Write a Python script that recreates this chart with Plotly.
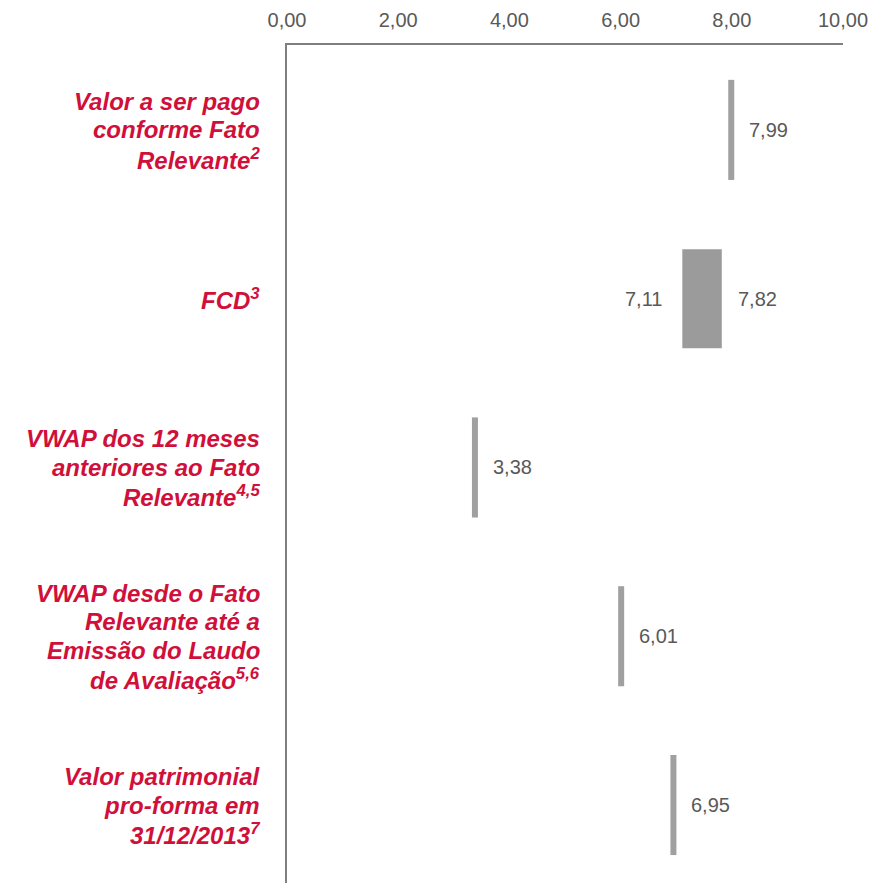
import plotly.graph_objects as go

# Categories (top to bottom), one entry per text line, and their values
categories = [
    ["Valor a ser pago", "conforme Fato", "Relevante<sup>2</sup>"],
    ["FCD<sup>3</sup>"],
    ["VWAP dos 12 meses", "anteriores ao Fato", "Relevante<sup>4,5</sup>"],
    ["VWAP desde o Fato", "Relevante até a", "Emissão do Laudo",
     "de Avaliação<sup>5,6</sup>"],
    ["Valor patrimonial", "pro-forma em", "31/12/2013<sup>7</sup>"],
]
point_values = [7.99, None, 3.38, 6.01, 6.95]
range_low = [None, 7.11, None, None, None]
range_high = [None, 7.82, None, None, None]
tick_values = [0, 2, 4, 6, 8, 10]

RED = "#d0103a"
GREY_MARK = "#a0a0a0"
GREY_BOX = "#9b9b9b"
GREY_TEXT = "#595959"
FONT = "Liberation Sans"
LINE_STEP = 28.7


def fmt(v):
    return f"{v:.2f}".replace(".", ",")


rows = list(range(len(categories)))
fig = go.Figure()

# Range rows drawn as floating horizontal bars
rb_y = [r for r in rows if range_low[r] is not None]
fig.add_trace(go.Bar(
    orientation="h",
    y=rb_y,
    base=[range_low[r] for r in rb_y],
    x=[range_high[r] - range_low[r] for r in rb_y],
    width=0.587,
    marker=dict(color=GREY_BOX, line=dict(width=0)),
    hoverinfo="skip",
))

# Single-value rows drawn as vertical tick marks
pv_y = [r for r in rows if point_values[r] is not None]
fig.add_trace(go.Scatter(
    x=[point_values[r] for r in pv_y],
    y=pv_y,
    mode="markers",
    marker=dict(symbol="line-ns", size=71.5,
                line=dict(width=6, color=GREY_MARK)),
    hoverinfo="skip",
))

annotations = []
vfont = dict(family=FONT, size=20, color=GREY_TEXT)
for r in pv_y:
    annotations.append(dict(x=point_values[r], y=r, xref="x", yref="y",
                            text=fmt(point_values[r]), showarrow=False,
                            xanchor="left", yanchor="middle", xshift=16,
                            font=vfont))
for r in rb_y:
    annotations.append(dict(x=range_high[r], y=r, xref="x", yref="y",
                            text=fmt(range_high[r]), showarrow=False,
                            xanchor="left", yanchor="middle", xshift=14,
                            font=vfont))
    annotations.append(dict(x=range_low[r], y=r, xref="x", yref="y",
                            text=fmt(range_low[r]), showarrow=False,
                            xanchor="right", yanchor="middle", xshift=-18,
                            font=vfont))

# Category labels on the left, each line placed on its own
for r, lines in enumerate(categories):
    n = len(lines)
    for i, line in enumerate(lines):
        annotations.append(dict(x=0, y=r, xref="paper", yref="y",
                                text=f"<b><i>{line}</i></b>", showarrow=False,
                                xanchor="right", yanchor="middle", xshift=-25,
                                yshift=((n - 1) / 2 - i) * LINE_STEP,
                                align="right",
                                font=dict(family=FONT, size=24, color=RED)))

fig.update_layout(
    width=871, height=883,
    margin=dict(l=287, r=28, t=45, b=0),
    paper_bgcolor="white", plot_bgcolor="white",
    showlegend=False,
    font=dict(family=FONT),
    annotations=annotations,
    xaxis=dict(
        side="top", range=[0, 10],
        tickvals=tick_values, ticktext=[fmt(v) for v in tick_values],
        showgrid=False, zeroline=False,
        showline=True, linecolor="#7f7f7f", linewidth=1.5,
        ticks="outside", ticklen=8, tickcolor="rgba(0,0,0,0)",
        tickfont=dict(family=FONT, size=20, color=GREY_TEXT),
    ),
    yaxis=dict(
        range=[4.462, -0.503],
        showticklabels=False, showgrid=False, zeroline=False,
        showline=True, linecolor="#7f7f7f", linewidth=1.5,
    ),
)

fig.write_html("out.html")
